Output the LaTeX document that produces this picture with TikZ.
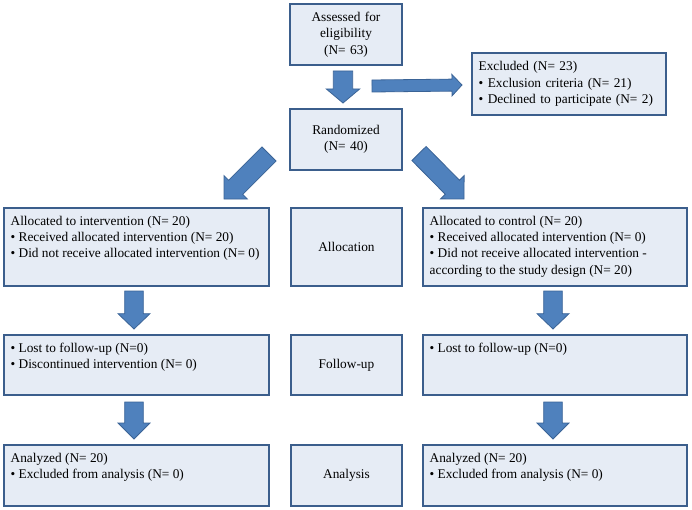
\documentclass[tikz,border=0pt]{standalone}
\usepackage{fontspec}
\setmainfont{Liberation Serif}
\usetikzlibrary{calc}
\definecolor{bord}{HTML}{3B5E8C}
\definecolor{boxfill}{HTML}{E6ECF5}
\definecolor{arrfill}{HTML}{4F81BD}
\definecolor{arrline}{HTML}{3A6396}
\newcommand{\tbx}[3]{\parbox[c][\dimexpr#2-12pt\relax][t]{\dimexpr#1-10pt\relax}{\raggedright #3}}
\newcommand{\barr}[5]{%
  \coordinate (bneck) at ($(#2)!#5!(#1)$);
  \draw[arr] ($(#1)!#3!90:(#2)$) -- ($(bneck)!#3!90:(#2)$) -- ($(bneck)!#4!90:(#2)$) -- (#2)
    -- ($(bneck)!#4!-90:(#2)$) -- ($(bneck)!#3!-90:(#2)$) -- ($(#1)!#3!-90:(#2)$) -- cycle;}
\tikzset{
  bx/.style={draw=bord, fill=boxfill, line width=1.5pt, font=\fontsize{10}{12.2}\selectfont},
  cbx/.style={bx, align=center, inner sep=0pt},
  lbx/.style={bx, inner xsep=5pt, inner ysep=6pt},
  arr/.style={fill=arrfill, draw=arrline, line width=0.6pt, line join=miter},
}
\begin{document}
\begin{tikzpicture}[x=0.75pt,y=-0.75pt]
\useasboundingbox (0,0) rectangle (692,510);
% top
\node[cbx, text width=84pt, minimum height=45.75pt] (A) at (346,34.5) {Assessed for\\eligibility\\(N= 63)};
\node[cbx, text width=84pt, minimum height=45.75pt] (R) at (346,139.5) {Randomized\\(N= 40)};
\node[bx, align=left, text width=135.5pt, inner xsep=5pt, inner ysep=0pt, minimum height=46.5pt] (Ex) at (569,84)
  {Excluded (N= 23)\\• Exclusion criteria (N= 21)\\• Declined to participate (N= 2)};
% row 2
\node[lbx] (L2) at (136.5,247) {\tbx{198.75pt}{58.5pt}{Allocated to intervention (N= 20)\\• Received allocated intervention (N= 20)\\• Did not receive allocated intervention (N= 0)}};
\node[cbx, text width=83.25pt, minimum height=58.5pt] (M2) at (346.5,247) {Allocation};
\node[lbx] (R2) at (555,247) {\tbx{198pt}{58.5pt}{Allocated to control (N= 20)\\• Received allocated intervention (N= 0)\\• Did not receive allocated intervention -\\according to the study design (N= 20)}};
% row 3
\node[lbx] (L3) at (136.5,365) {\tbx{198.75pt}{45pt}{• Lost to follow-up (N=0)\\• Discontinued intervention (N= 0)}};
\node[cbx, text width=83.25pt, minimum height=45pt] (M3) at (346.5,365) {Follow-up};
\node[lbx] (R3) at (555,365) {\tbx{198pt}{45pt}{• Lost to follow-up (N=0)}};
% row 4
\node[lbx] (L4) at (136.5,475.5) {\tbx{198.75pt}{45.75pt}{Analyzed (N= 20)\\• Excluded from analysis (N= 0)}};
\node[cbx, text width=83.25pt, minimum height=45.75pt] (M4) at (346.5,475.5) {Analysis};
\node[lbx] (R4) at (555,475.5) {\tbx{198pt}{45.75pt}{Analyzed (N= 20)\\• Excluded from analysis (N= 0)}};
% arrow end points
\coordinate (t1) at ($(A.south)+(-3,5)$);
\coordinate (t2) at ($(R.north)+(-3,-5)$);
\coordinate (hx1) at ($(A.south)+(26,20)$);
\coordinate (hx2) at ($(Ex.west)+(-9,1)$);
\coordinate (dl1) at ($(R.west)+(-20,14.5)$);
\coordinate (dl2) at ($(L2.north)+(87.5,-8)$);
\coordinate (dr1) at ($(R.east)+(16,14)$);
\coordinate (dr2) at ($(R2.north)+(-91,-8)$);
\coordinate (a1) at ($(L2.south)+(-2.5,4)$);
\coordinate (a2) at ($(L3.north)+(-2.5,-5)$);
\coordinate (b1) at ($(R2.south)+(-2,4)$);
\coordinate (b2) at ($(R3.north)+(-2,-5)$);
\coordinate (c1) at ($(L3.south)+(-2.5,6)$);
\coordinate (c2) at ($(L4.north)+(-2.5,-5)$);
\coordinate (d1) at ($(R3.south)+(-2,6)$);
\coordinate (d2) at ($(R4.north)+(-2,-5)$);
% block arrows
\barr{t1}{t2}{7.25pt}{12.5pt}{10.5pt}
\barr{hx1}{hx2}{4.5pt}{8pt}{7.5pt}
\barr{dl1}{dl2}{7.5pt}{12.4pt}{12.4pt}
\barr{dr1}{dr2}{7.5pt}{12.4pt}{12.4pt}
\barr{a1}{a2}{7pt}{12pt}{11.5pt}
\barr{b1}{b2}{7pt}{12pt}{11.5pt}
\barr{c1}{c2}{7pt}{12pt}{12pt}
\barr{d1}{d2}{7pt}{12pt}{12pt}
\end{tikzpicture}
\end{document}
